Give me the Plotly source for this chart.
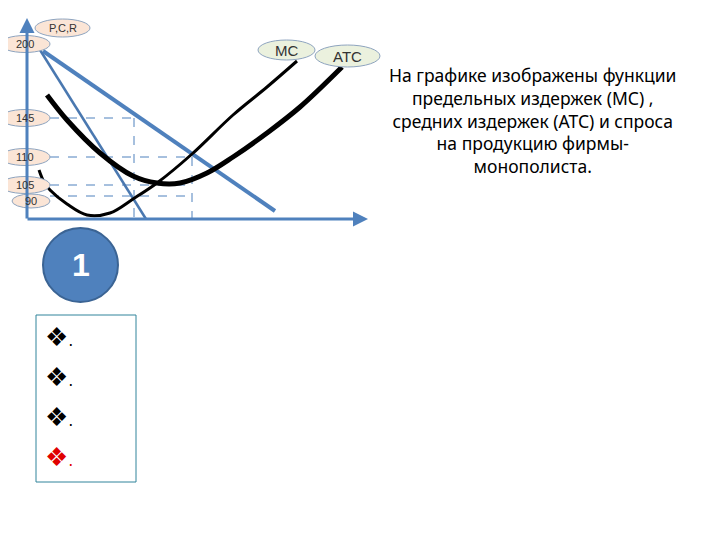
import plotly.graph_objects as go

# ---- data (schematic coordinates: q = quantity units, p = price-display units) ----
price_labels = ["200", "145", "110", "105", "90"]
price_levels = [175, 101, 62, 34, 23]          # schematic heights of the price ticks
label_centres = [175, 101, 62, 34, 18]          # where the ellipse tags sit

demand_q = [16, 248]
demand_p = [168, 8]
mr_q = [13, 119]
mr_p = [169, 0]

mc_q = [12, 17, 23, 40, 60, 83, 106, 130, 165, 206, 240, 270]
mc_p = [49, 37, 29, 15, 4, 6, 20, 36, 65, 104, 132, 158]

atc_q = [20, 40, 73, 106, 130, 153, 180, 206, 240, 273, 315]
atc_p = [124, 99, 66, 43, 36, 36, 46, 62, 86, 112, 152]

q_opt = [107, 165]        # vertical guide positions
guide_levels = [101, 62, 34, 23]
guide_ends = [107, 165, 165, 165]

text_ru = ("На графике изображены функции<br>предельных издержек (МС) ,<br>"
           "средних издержек (АТС) и спроса<br>на продукцию фирмы-<br>монополиста.")

BLUE = "#4f81bd"
fig = go.Figure()

# dashed guides
for lvl, xr in zip(guide_levels, guide_ends):
    fig.add_trace(go.Scatter(x=[23, xr], y=[lvl, lvl], mode="lines",
                             line=dict(color=BLUE, width=1, dash="dash"), hoverinfo="skip"))
for qv, lvl in zip(q_opt, guide_levels[:2]):
    fig.add_trace(go.Scatter(x=[qv, qv], y=[lvl, 0], mode="lines",
                             line=dict(color=BLUE, width=1, dash="dash"), hoverinfo="skip"))

# demand & MR
fig.add_trace(go.Scatter(x=demand_q, y=demand_p, mode="lines",
                         line=dict(color=BLUE, width=4), hoverinfo="skip"))
fig.add_trace(go.Scatter(x=mr_q, y=mr_p, mode="lines",
                         line=dict(color="#4a78b0", width=2.5), hoverinfo="skip"))
# MC & ATC
fig.add_trace(go.Scatter(x=mc_q, y=mc_p, mode="lines", line_shape="spline",
                         line=dict(color="black", width=3), hoverinfo="skip"))
fig.add_trace(go.Scatter(x=atc_q, y=atc_p, mode="lines", line_shape="spline",
                         line=dict(color="black", width=5), hoverinfo="skip"))

shapes = []
annotations = []

# axes with arrows
annotations.append(dict(x=0, y=201, ax=0, ay=-1, xref="x", yref="y", axref="x", ayref="y",
                        showarrow=True, arrowhead=2, arrowsize=1, arrowwidth=3,
                        arrowcolor=BLUE, text=""))
annotations.append(dict(x=341, y=0, ax=-1, ay=0, xref="x", yref="y", axref="x", ayref="y",
                        showarrow=True, arrowhead=2, arrowsize=1, arrowwidth=3,
                        arrowcolor=BLUE, text=""))

def tag(x0, x1, y0, y1, txt, fill, size, border="#8ea4bf"):
    shapes.append(dict(type="circle", xref="x", yref="y", x0=x0, x1=x1, y0=y0, y1=y1,
                       fillcolor=fill, line=dict(color=border, width=1), layer="above"))
    annotations.append(dict(x=(x0 + x1) / 2, y=(y0 + y1) / 2, xref="x", yref="y",
                            text=txt, showarrow=False,
                            font=dict(family="Liberation Sans", size=size, color="#333333")))

PEACH = "#fbe5d6"
GREEN = "#ebf1de"
tag(8, 63, 182, 200, "P,C,R", PEACH, 11)
for lab, c in zip(price_labels, label_centres):
    if lab == "90":
        tag(-15, 23, c - 7, c + 7, lab, PEACH, 11)
    else:
        tag(-27, 23, c - 8.5, c + 8.5, lab, PEACH, 11)
tag(231, 288, 159, 179, "MC", GREEN, 15)
tag(288, 353, 152, 174, "ATC", GREEN, 15)

# circle "1"
shapes.append(dict(type="circle", xref="x", yref="y", x0=16, x1=91, y0=-83, y1=-9,
                   fillcolor="#4f81bd", line=dict(color="#3b6494", width=2)))
annotations.append(dict(x=53.5, y=-46, xref="x", yref="y", text="<b>1</b>", showarrow=False,
                        font=dict(family="Liberation Sans", size=32, color="white")))

# bullet box
shapes.append(dict(type="rect", xref="x", yref="y", x0=9, x1=109, y0=-263, y1=-96,
                   line=dict(color="#31849b", width=1), fillcolor="rgba(0,0,0,0)"))
for i, pv in enumerate([-118, -158, -198, -238]):
    col = "#e00000" if i == 3 else "black"
    annotations.append(dict(x=16, y=pv, xref="x", yref="y", xanchor="left",
                            text="❖<span style='font-size:16px'>.</span>", showarrow=False,
                            font=dict(family="DejaVu Sans", size=26, color=col)))

# right-hand text
annotations.append(dict(x=505, y=99, xref="x", yref="y", text=text_ru, showarrow=False,
                        align="center", font=dict(family="Noto Sans", size=17.5, color="black")))

# page has an 8px body margin: shift ranges so the drawing lands where it should
fig.update_layout(
    width=720, height=540, margin=dict(l=0, r=0, t=0, b=0),
    paper_bgcolor="white", plot_bgcolor="white", showlegend=False,
    xaxis=dict(range=[-19, 701], visible=False, fixedrange=True),
    yaxis=dict(range=[-329, 211], visible=False, fixedrange=True),
    shapes=shapes, annotations=annotations,
)
fig.write_html("out.html")
